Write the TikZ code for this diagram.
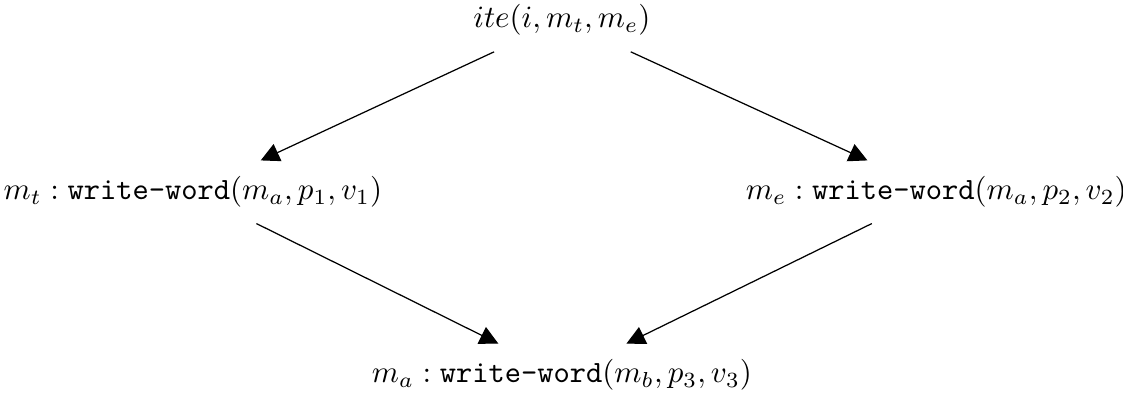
\documentclass[tikz,border=0pt]{standalone}
\usetikzlibrary{arrows.meta}

\tikzset{ITEmem/.style={inner sep=5pt},
         ITEarr/.style={-{Triangle[length=6pt,width=6pt]}}}

\begin{document}
\begin{tikzpicture}
    \useasboundingbox (0,0) rectangle (12.75,-4.485);
    \node[ITEmem] (ite) at (6.38,-0.23) {$ite(i, m_t, m_e)$};
    \node[ITEmem] (mt) at (2.19,-2.18) {$m_t : \texttt{write-word}(m_a, p_1, v_1)$};
    \node[ITEmem] (me) at (10.63,-2.18) {$m_e : \texttt{write-word}(m_a, p_2, v_2)$};
    \node[ITEmem] (ma) at (6.38,-4.26) {$m_a : \texttt{write-word}(m_b, p_3, v_3)$};
    \draw[ITEarr] (ite)--(mt); \draw[ITEarr] (ite)--(me);
    \draw[ITEarr] (mt)--(ma); \draw[ITEarr] (me)--(ma);
  \end{tikzpicture}
\end{document}
